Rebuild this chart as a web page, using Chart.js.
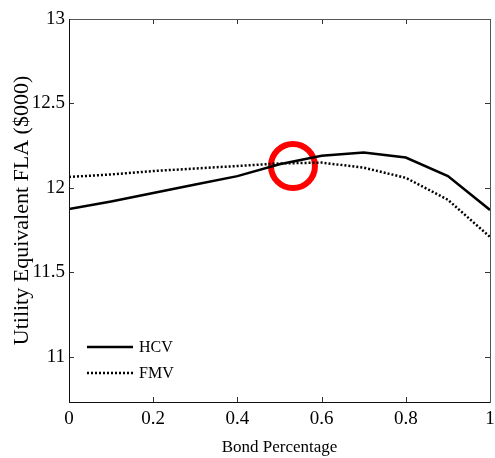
<!DOCTYPE html>
<html>
<head>
<meta charset="utf-8">
<script src="https://cdn.jsdelivr.net/npm/chart.js@4.4.1/dist/chart.umd.min.js"></script>
<style>
  html, body { margin: 0; padding: 0; background: #fff; }
  #wrap { width: 495px; height: 458px; }
</style>
</head>
<body>
<div id="wrap"><canvas id="c" width="495" height="458"></canvas></div>
<script>
// data
const bondPct = [0, 0.1, 0.2, 0.3, 0.4, 0.5, 0.6, 0.7, 0.8, 0.9, 1];
const hcv = [11.875, 11.92, 11.97, 12.02, 12.07, 12.14, 12.19, 12.21, 12.18, 12.07, 11.87];
const fmv = [12.065, 12.08, 12.10, 12.115, 12.13, 12.145, 12.15, 12.12, 12.06, 11.93, 11.71];
const xTicks = [0, 0.2, 0.4, 0.6, 0.8, 1];
const yTicks = [11, 11.5, 12, 12.5, 13];
const marker = [{ x: 0.532, y: 12.13 }];

const serif = '"Liberation Serif", "DejaVu Serif", serif';
Chart.defaults.font.family = serif;
Chart.defaults.color = '#000';

// ticks inside the box + frame + legend
const framePlugin = {
  id: 'frame',
  afterDatasetsDraw(chart) {
    const { ctx, chartArea: a, scales } = chart;
    ctx.save();
    ctx.strokeStyle = '#333';
    ctx.lineWidth = 1;
    ctx.beginPath();
    xTicks.forEach(v => {
      const px = Math.round(scales.x.getPixelForValue(v)) + 0.5;
      ctx.moveTo(px, a.bottom); ctx.lineTo(px, a.bottom - 5);
      ctx.moveTo(px, a.top); ctx.lineTo(px, a.top + 5);
    });
    yTicks.forEach(v => {
      const py = Math.round(scales.y.getPixelForValue(v)) + 0.5;
      ctx.moveTo(a.left, py); ctx.lineTo(a.left + 5, py);
      ctx.moveTo(a.right, py); ctx.lineTo(a.right - 5, py);
    });
    ctx.stroke();
    ctx.strokeStyle = '#555';
    ctx.strokeRect(Math.round(a.left) + 0.5, Math.round(a.top) + 0.5,
      Math.round(a.right - a.left), Math.round(a.bottom - a.top));
    ctx.strokeStyle = '#111';
    ctx.beginPath();
    ctx.moveTo(Math.round(a.left) + 0.5, a.top);
    ctx.lineTo(Math.round(a.left) + 0.5, a.bottom + 0.5);
    ctx.lineTo(a.right, Math.round(a.bottom) + 0.5);
    ctx.stroke();

    const items = chart.data.datasets.filter(d => d.label);
    ctx.font = '16px ' + serif;
    ctx.fillStyle = '#000';
    ctx.textBaseline = 'middle';
    items.forEach((d, i) => {
      const y = a.top + 328 + i * 26;
      ctx.strokeStyle = '#000';
      ctx.lineWidth = d.borderWidth;
      ctx.setLineDash(d.borderDash || []);
      ctx.beginPath();
      ctx.moveTo(a.left + 18, y);
      ctx.lineTo(a.left + 64, y);
      ctx.stroke();
      ctx.setLineDash([]);
      ctx.fillText(d.label, a.left + 70, y + 1);
    });
    ctx.restore();
  }
};

new Chart(document.getElementById('c'), {
  type: 'line',
  data: {
    datasets: [
      {
        label: 'HCV',
        data: bondPct.map((x, i) => ({ x, y: hcv[i] })),
        borderColor: '#000',
        borderWidth: 2.5,
        pointRadius: 0,
        tension: 0
      },
      {
        label: 'FMV',
        data: bondPct.map((x, i) => ({ x, y: fmv[i] })),
        borderColor: '#000',
        borderWidth: 2.5,
        borderDash: [2, 2],
        pointRadius: 0,
        tension: 0
      },
      {
        type: 'scatter',
        data: marker,
        pointRadius: 22,
        pointBorderWidth: 6,
        pointBorderColor: '#f00',
        pointBackgroundColor: 'rgba(0,0,0,0)',
        showLine: false
      }
    ]
  },
  options: {
    responsive: false,
    animation: false,
    layout: { autoPadding: false, padding: { top: 19, right: 5, left: 0, bottom: 0 } },
    plugins: { legend: { display: false }, tooltip: { enabled: false } },
    scales: {
      x: {
        type: 'linear',
        min: 0,
        max: 1,
        afterBuildTicks: s => { s.ticks = xTicks.map(v => ({ value: v })); },
        afterFit: s => { s.height = 56; s.paddingLeft = 0; s.paddingRight = 0; },
        grid: { display: false, drawTicks: false },
        border: { display: false },
        ticks: {
          padding: 6,
          color: '#000',
          font: { family: serif, size: 19 },
          callback: v => String(v)
        },
        title: {
          display: true,
          text: 'Bond Percentage',
          color: '#000',
          font: { family: serif, size: 17 },
          padding: { top: 4, bottom: 0 }
        }
      },
      y: {
        min: 10.733,
        max: 13,
        afterBuildTicks: s => { s.ticks = yTicks.map(v => ({ value: v })); },
        afterFit: s => { s.width = 69; },
        grid: { display: false, drawTicks: false },
        border: { display: false },
        ticks: {
          padding: 4,
          color: '#000',
          font: { family: serif, size: 19 },
          callback: v => String(v)
        },
        title: {
          display: true,
          text: 'Utility Equivalent FLA ($000)',
          color: '#000',
          font: { family: serif, size: 22 },
          padding: { top: 9, bottom: 0 }
        }
      }
    }
  },
  plugins: [framePlugin]
});
</script>
</body>
</html>
